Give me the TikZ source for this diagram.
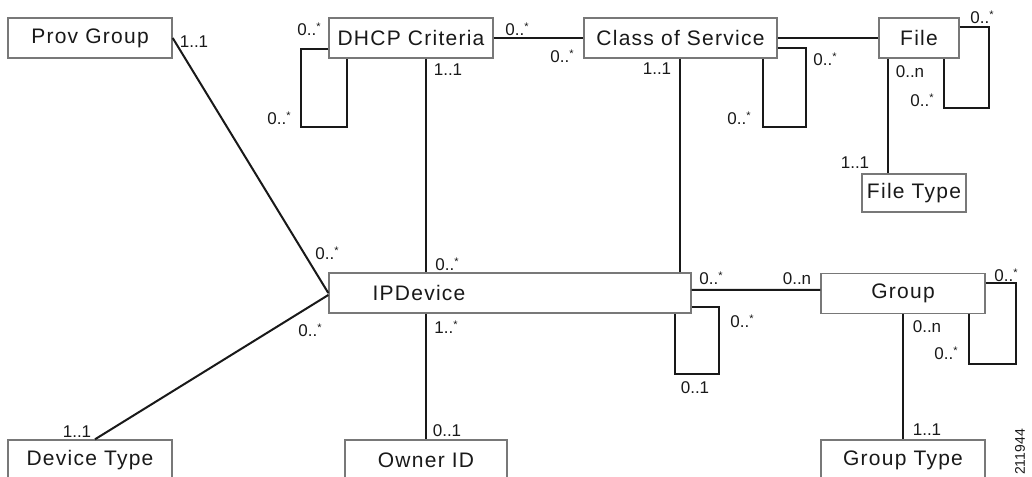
\documentclass[tikz,border=0pt]{standalone}
\usepackage{fontspec}
\setmainfont{Liberation Sans}
\newfontfamily\boxfam[LetterSpace=6]{Liberation Sans}
\usetikzlibrary{calc}
\definecolor{boxgrey}{RGB}{120,120,120}
\definecolor{ink}{RGB}{25,25,25}
\newcommand{\boxfont}{\boxfam\fontsize{21bp}{24bp}\selectfont}
\newcommand{\multfont}{\fontsize{17bp}{20bp}\selectfont}
\newcommand{\mstar}{0..\raisebox{0.3em}{\fontsize{11bp}{11bp}\selectfont *}}
\newcommand{\lstar}{1..\raisebox{0.3em}{\fontsize{11bp}{11bp}\selectfont *}}
\begin{document}
\begin{tikzpicture}[x=1bp,y=-1bp,
  box/.style={draw=boxgrey, line width=1.4bp, rectangle, inner sep=0pt,
    minimum height=40bp, font=\boxfont, text=ink},
  boxtext/.style={font=\boxfont, text=ink, inner sep=0pt},
  conn/.style={line width=2bp, draw=ink},
  mult/.style={font=\multfont, inner sep=0pt, text=ink}]
\fill[white] (0,0) rectangle (1032,477);
\useasboundingbox (0,0) rectangle (1032,477);

% boxes
\node[box, minimum width=164bp] (prov)  at (90,38)    {Prov Group};
\node[box, minimum width=164bp] (dhcp)  at (411,38)   {DHCP Criteria};
\node[box, minimum width=193bp] (cos)   at (680.5,38) {Class of Service};
\node[box, minimum width=80bp]  (file)  at (919,38)   {File};
\node[box, minimum width=104bp, minimum height=38bp] (ftype) at (914,193) {File Type};
\node[box, minimum width=362bp,
      label={[boxtext, xshift=-91bp]center:IPDevice}] (ipd) at (510,293) {};
\node[box, minimum width=164bp] (group) at (903,293.5) {Group};
\node[box, minimum width=164bp] (dtype) at (90,460)   {Device Type};
\node[box, minimum width=162bp] (owner) at (426,460)  {Owner ID};
\node[box, minimum width=164bp] (gtype) at (903,460)  {Group Type};

% connectors
\draw[conn] (prov.east) -- (ipd.west);
\draw[conn] ([xshift=5bp]dtype.north) -- ([yshift=-2bp]ipd.west);
\draw[conn] ([xshift=15bp]dhcp.south) -- ([xshift=15bp]dhcp.south |- ipd.north);
\draw[conn] (dhcp.east) -- (cos.west);
\draw[conn] ([xshift=-0.5bp]cos.south) -- ([xshift=-0.5bp]cos.south |- ipd.north);
\draw[conn] (cos.east) -- (file.west);
\draw[conn] ([xshift=-31bp]file.south) -- ([xshift=-31bp]file.south |- ftype.north);
\draw[conn] ([yshift=3bp]ipd.east) -- ([yshift=3.5bp]group.west);
\draw[conn] (owner.north |- ipd.south) -- (owner.north);
\draw[conn] (group.south) -- (gtype.north);
% self loops
\draw[conn] ([yshift=-11bp]dhcp.west) -| (301,127) -| ([xshift=-64bp]dhcp.south);
\draw[conn] ([yshift=-10bp]cos.east) -| (806,127) -| ([xshift=82.5bp]cos.south);
\draw[conn] ([yshift=11bp]file.east) -| (989,108) -| ([xshift=25bp]file.south);
\draw[conn] ([yshift=-14bp]ipd.east) -| (719,374) -| ([xshift=165bp]ipd.south);
\draw[conn] ([yshift=10bp]group.east) -| (1016,364) -| ([xshift=66bp]group.south);

% multiplicities
\node[mult] (m1)  at (194,41.5) {1..1};
\node[mult] (m2)  at (309,29)   {\mstar};
\node[mult] (m3)  at (279,118)  {\mstar};
\node[mult] (m4)  at (448,70)   {1..1};
\node[mult] (m5)  at (517,29)   {\mstar};
\node[mult] (m6)  at (562,56)   {\mstar};
\node[mult] (m7)  at (657,69)   {1..1};
\node[mult] (m8)  at (825,59)   {\mstar};
\node[mult] (m9)  at (739,118)  {\mstar};
\node[mult] (m10) at (982,17)   {\mstar};
\node[mult] (m11) at (910,72)   {0..n};
\node[mult] (m12) at (922,100)  {\mstar};
\node[mult] (m13) at (855,163)  {1..1};
\node[mult] (m14) at (327,253)  {\mstar};
\node[mult] (m15) at (447,264)  {\mstar};
\node[mult] (m16) at (310,330)  {\mstar};
\node[mult] (m17) at (446,327)  {\lstar};
\node[mult] (m18) at (77,432)   {1..1};
\node[mult] (m19) at (447,431)  {0..1};
\node[mult] (m20) at (711,278)  {\mstar};
\node[mult] (m21) at (797,279)  {0..n};
\node[mult] (m22) at (742,321)  {\mstar};
\node[mult] (m23) at (695,388)  {0..1};
\node[mult] (m24) at (1006,275) {\mstar};
\node[mult] (m25) at (927,327)  {0..n};
\node[mult] (m26) at (946,353)  {\mstar};
\node[mult] (m27) at (927,430)  {1..1};
\node[mult, font=\fontsize{14bp}{16bp}\selectfont, rotate=90] (fig) at (1020,452) {211944};
\end{tikzpicture}
\end{document}
